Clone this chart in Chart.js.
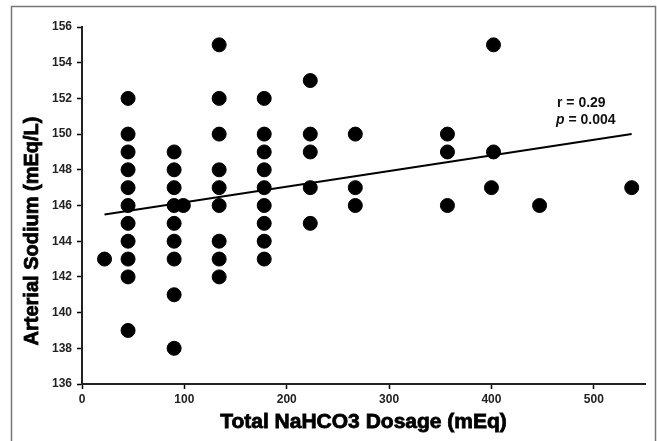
<!DOCTYPE html>
<html>
<head>
<meta charset="utf-8">
<script src="https://cdn.jsdelivr.net/npm/chart.js@4"></script>
<style>
  html, body { margin: 0; padding: 0; background: #fff; }
  #wrap { width: 657px; height: 441px; }
</style>
</head>
<body>
<div id="wrap"><canvas id="sodiumChart" width="657" height="441"></canvas></div>
<script>
// dose (mEq) and arterial sodium (mEq/L) for each patient
const doses = [
  45, 45, 45, 45, 45, 45, 45, 45, 45, 45, 45,
  90, 90, 90, 90, 90, 90, 90, 90, 90, 99,
  134, 134, 134, 134, 134, 134, 134, 134, 134,
  178, 178, 178, 178, 178, 178, 178, 178, 178,
  223, 223, 223, 223, 223,
  267, 267, 267,
  357, 357, 357,
  402, 402, 400, 447, 537, 22
];
const sodium = [
  152, 150, 149, 148, 147, 146, 145, 144, 143, 142, 139,
  149, 148, 147, 146, 145, 144, 143, 141, 138, 146,
  155, 152, 150, 148, 147, 146, 144, 143, 142,
  152, 150, 149, 148, 147, 146, 145, 144, 143,
  153, 150, 149, 147, 145,
  150, 147, 146,
  150, 149, 146,
  155, 149, 147, 146, 147, 143
];

// regression line end points
const fitX = [22, 537];
const fitY = [145.5, 150.0];

const statLines = ['r = 0.29', 'p = 0.004'];
const xTitle = 'Total NaHCO3 Dosage (mEq)';
const yTitle = 'Arterial Sodium (mEq/L)';

const tickFont = { family: 'Liberation Sans, Arial, sans-serif', size: 12, weight: 'bold' };

// frame, heavy axis titles and the r/p note
const extras = {
  id: 'extras',
  beforeDraw(chart) {
    const c = chart.ctx;
    c.save();
    c.fillStyle = '#fff';
    c.fillRect(0, 0, chart.width, chart.height);
    c.strokeStyle = '#777';
    c.lineWidth = 1.5;
    c.strokeRect(11.5, 6.5, 644, 440);
    c.restore();
  },
  afterDraw(chart) {
    const c = chart.ctx;
    const area = chart.chartArea;
    c.save();
    c.fillStyle = '#000';
    c.strokeStyle = '#000';
    c.lineWidth = 0.8;
    c.textAlign = 'center';
    c.textBaseline = 'middle';
    c.font = 'bold 21px "Liberation Sans", Arial, sans-serif';
    const cx = (area.left + area.right) / 2;
    c.fillText(xTitle, cx, 422);
    c.strokeText(xTitle, cx, 422);
    c.font = 'bold 20px "Liberation Sans", Arial, sans-serif';
    c.translate(32, 231);
    c.rotate(-Math.PI / 2);
    c.fillText(yTitle, 0, 0);
    c.strokeText(yTitle, 0, 0);
    c.restore();

    c.save();
    c.fillStyle = '#111';
    c.textBaseline = 'middle';
    c.textAlign = 'left';
    c.font = 'bold 14px "Liberation Sans", Arial, sans-serif';
    c.fillText(statLines[0], 557, 103);
    // italic p
    c.font = 'italic bold 14px "Liberation Sans", Arial, sans-serif';
    c.fillText('p', 556, 120);
    const pw = c.measureText('p').width;
    c.font = 'bold 14px "Liberation Sans", Arial, sans-serif';
    c.fillText(statLines[1].slice(1), 556 + pw, 120);
    c.restore();
  }
};

const ctx = document.getElementById('sodiumChart').getContext('2d');
new Chart(ctx, {
  data: {
    datasets: [
      {
        type: 'scatter',
        data: doses.map((d, i) => ({ x: d, y: sodium[i] })),
        backgroundColor: '#000',
        borderColor: '#000',
        pointRadius: 7,
        pointHoverRadius: 7
      },
      {
        type: 'line',
        data: fitX.map((d, i) => ({ x: d, y: fitY[i] })),
        borderColor: '#000',
        borderWidth: 2,
        pointRadius: 0,
        fill: false
      }
    ]
  },
  options: {
    responsive: false,
    animation: false,
    layout: { padding: { top: 27, right: 12, left: 0, bottom: 0 } },
    plugins: { legend: { display: false }, tooltip: { enabled: false } },
    scales: {
      x: {
        type: 'linear',
        min: 0,
        max: 550,
        afterBuildTicks: s => { s.ticks = s.ticks.filter(t => t.value <= 500); },
        afterFit: s => { s.height = 57; },
        ticks: { stepSize: 100, color: '#222', font: tickFont, padding: 3 },
        grid: { drawOnChartArea: false, drawTicks: true, tickLength: 5, tickColor: '#000', tickWidth: 1.5 },
        border: { color: '#222', width: 2 }
      },
      y: {
        type: 'linear',
        min: 136,
        max: 156,
        afterFit: s => { s.width = 82; },
        ticks: { stepSize: 2, color: '#222', font: tickFont, padding: 5 },
        grid: { drawOnChartArea: false, drawTicks: true, tickLength: 5, tickColor: '#000', tickWidth: 1.5 },
        border: { color: '#222', width: 2 }
      }
    }
  },
  plugins: [extras]
});
</script>
</body>
</html>
